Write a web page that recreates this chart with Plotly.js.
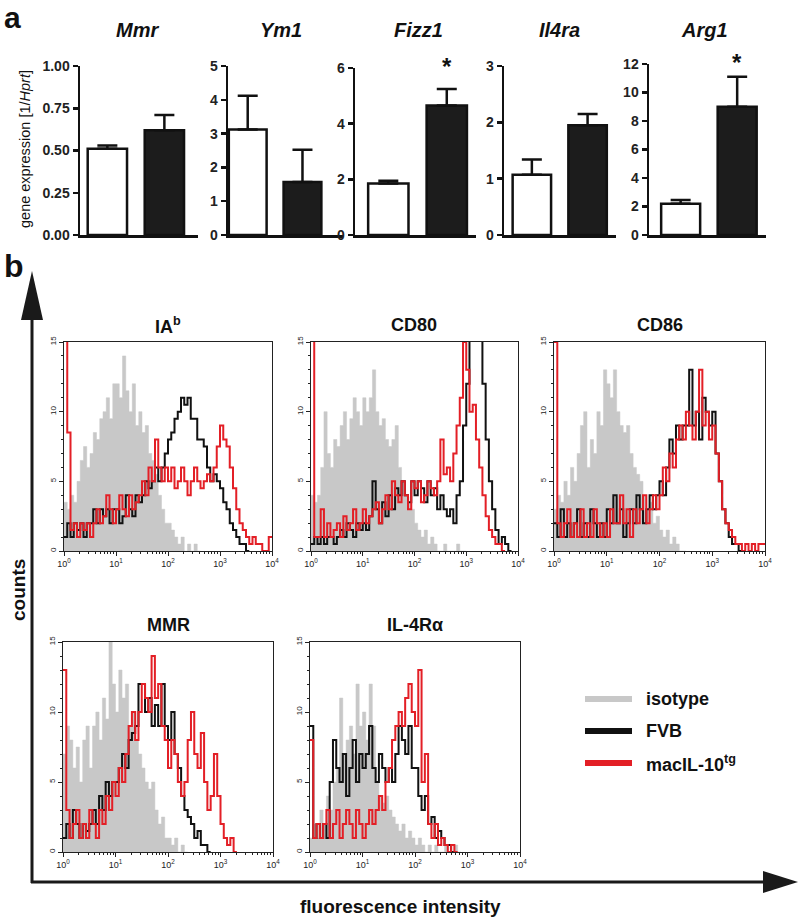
<!DOCTYPE html>
<html>
<head>
<meta charset="utf-8">
<script src="https://cdn.plot.ly/plotly-3.0.1.min.js"></script>
<style>
  html, body { margin: 0; padding: 0; background: #fff; }
  #plot { width: 800px; height: 919px; }
</style>
</head>
<body>
<div id="plot"></div>
<script>
// ---- panel a: gene expression, FVB (white) vs macIL-10tg (black) ----
const genes = ['Mmr', 'Ym1', 'Fizz1', 'Il4ra', 'Arg1'];
const fvbMean = [0.51, 3.12, 1.85, 1.07, 2.2];
const fvbErr = [0.02, 1.0, 0.1, 0.27, 0.25];
const tgMean = [0.62, 1.57, 4.65, 1.95, 9.0];
const tgErr = [0.09, 0.95, 0.6, 0.2, 2.1];
const yMax = [1, 5, 6, 3, 12];
const yStep = [0.25, 1, 2, 1, 2];
const signif = [false, false, true, false, true];

// ---- panel b: flow histograms, 16 channels per decade starting at 10^0 ----
const markers = ['IA<sup>b</sup>', 'CD80', 'CD86', 'MMR', 'IL-4R\u03b1'];
const binsPerDecade = 16;

const iabIso = [3.5,3,4,3.5,5,6.5,7.5,6, 7,8.5,8,9.5,10,11,9.5,12, 12,11,14,11.5,10,12,9,10, 8.5,9,7,6.5,5.5,4,3,2, 2,1.5,1,0.5,1,0,0.5,0, 0.5,0];
const iabFvb = [1,2,1,2,1.5,2,1,2, 2,3,2,3,2.5,3,2,3, 3,2,2.5,4,3,2.5,4,3.5, 4,5,4.5,5,6,5,6,7, 8,8.5,9.5,10,11,10.5,11,9.5, 9.5,8,8,7.5,6,5,5.5,5, 4.5,3.5,3,2,1.5,1,0.5,0.5, 0];
const iabTg = [20,8.5,1.5,2,1,2,1.5,2, 1,2,3,2,2.5,4,3,2, 3,4,3,2.5,4,3,3.5,4, 5,4,6,5,8,6,5,6, 5,6,4.5,5,6,5,4,5, 6,5,4.5,5,5.5,5,6,7.5, 9,8,7.5,6,4.5,3,2,1.5, 1,0.5,1,0.5,0.5,0,0,1];

const cd80Iso = [4,3.5,4,6,10,7,6,8, 7.5,9,10,8,9.5,11,10,9, 11,10,11,13,10,9,9.5,8, 7.5,8,9,6,5,4,3.5,3, 2,1.5,1,1.5,0.5,1,0.5,0, 0,0.5,0,0,0,0.5,0,0];
const cd80Fvb = [0.5,1,0.5,1,0.5,1,1,0.5, 1,1.5,1,2,1.5,1,2,1.5, 2,1.5,2.5,5,3,2,3.5,2.5, 4,3,4.5,4,5,4,3.5,5, 4,5,4.5,3.5,5,4,4.5,3, 4,3,2.5,3,2,4,5,9, 12,17,17,17,17,12,8,5, 3,1.5,0.5,1,0.5,0];
const cd80Tg = [20,1,1,3,1,2,1,1.5, 2,1,2.5,1.5,2,3,1.5,2, 3,2,2.5,3,3.5,2,3,4, 3,5,4,3.5,5,4,3,5, 4.5,5,3.5,4,5,4.5,4,5, 8,5.5,6,5,7,9,11,15, 13,10,10.5,8,6,4,2.5,1.5, 1,0.5,0.5,0];

const cd86Iso = [3,4,3.5,5,4,6,5,7, 9,10,6,8,7,10,9,13, 12,11,13,10,9,8.5,9,7, 6,5.5,5,4,3,3.5,2,2.5, 1.5,1,1.5,0.5,1,0.5,0,0];
const cd86Fvb = [2,1,3,1,2,1,2,3, 1,2,1,3,2,1,2,1, 3,2,4,2,3,1,2,3, 2,4,3,2,3,4,3,4, 5,4,6,8,7,9,8,9, 9,13,9,10,8,11,10,9, 10,7,5,3,2,1,0.5,0.5, 0];
const cd86Tg = [15,2,1,2,3,1,2,1, 3,1,2,1,3,2,1,2, 1,3,2,2,4,2,3,1, 3,2,3,4,2,3,4,3, 4,6,5,7,6,8,9,8, 10,9,8,10,13,9,10,8, 9,7,5,3,2,1.5,1,0.5, 0.5,0,0.5,0,0.5,0,0.5,0.5];

const mmrIso = [7,9,8,6,7.5,5,8,9, 6,9,10,8,11,9.5,15,12, 10,13,11,12,9,10,8,7, 6,5,4.5,5,3,2,2.5,1, 1,0.5,1,0,0.5,0];
const mmrFvb = [1,2,1,3,2,1,2,1.5, 2,3,2,4,3,5,4,5, 5,6,7,6,8,8.5,9,12, 12,10,11,9,10.5,9,12,9, 8,10,7,6,4,3,2.5,2, 1,1.5,0.5,0.5,0];
const mmrTg = [13,3,1,2,3,1,2,1, 3,2,1,3,2,4,3,5, 4,6,5,7,9,10,8,10, 12,11,10,14,11,12,9,8, 6,8,7,5,4,5,8,10, 7,6,8.5,5,3,4,7,4, 2,1,0.5,1,0];

const il4rIso = [1,2,1,3,2,4,3,5, 6,11,7,8,9,7,12,9, 10,8,12,9,5,4,3.5,4, 3,2.5,2,1.5,2,1,1.5,1, 0.5,1,0.5,0,0.5,0,0.5,0, 0,0.5,0,0,0.5,0];
const il4rFvb = [9,1,2,1,2,1,5,8, 6,5,7,4,6,8,5,7, 6,7,9,6,5,7,6,5, 6,5,7,9,8,7,9,6, 6,4,3,4,2,2.5,1,1.5, 1,0.5,0.5,0];
const il4rTg = [8,1,2,1,2,3,1,2, 3,1,2,3,2,1,3,2, 1,2,3,2,3,4,3,5, 6,8,9,10,9,11,12,10, 9,13,5,7,2,1,2,0.5, 1,0.5,0,0.5,0];

const isoSets = [iabIso, cd80Iso, cd86Iso, mmrIso, il4rIso];
const fvbSets = [iabFvb, cd80Fvb, cd86Fvb, mmrFvb, il4rFvb];
const tgSets = [iabTg, cd80Tg, cd86Tg, mmrTg, il4rTg];

const legendNames = ['isotype', 'FVB', 'macIL-10<sup>tg</sup>'];

// ---- layout helpers ----
const W = 800, H = 919;
const px = v => v / W;
const py = v => 1 - v / H;
const FONT = 'Liberation Sans, Arial, Helvetica, sans-serif';
const GRAY = '#c8c8c8', BLACK = '#111111', RED = '#e31f26';

// pixel boxes for the bar charts (y axis left, x axis end, top of y axis)
const barBox = [
    { l: 80, r: 198, t: 66, x0: -0.48, x1: 1.59, title: 137 },
    { l: 228, r: 343, t: 66, x0: -0.36, x1: 1.74, title: 281 },
    { l: 355, r: 476, t: 68, x0: -0.57, x1: 1.5, title: 418 },
    { l: 504, r: 616, t: 66, x0: -0.5, x1: 1.51, title: 559 },
    { l: 649, r: 766, t: 64, x0: -0.56, x1: 1.51, title: 704 }
];
const barBottom = 235;
const starY = [0, 0, 67, 0, 62];

// pixel boxes for the histograms
const histBox = [
    { l: 64, r: 272, t: 342, b: 551 },
    { l: 311, r: 518, t: 342, b: 551 },
    { l: 554, r: 765, t: 342, b: 551 },
    { l: 63, r: 273, t: 642, b: 852 },
    { l: 310, r: 520, t: 642, b: 852 }
];

function steps(counts) {
    const x = [], y = [];
    counts.forEach((c, i) => {
        x.push(Math.pow(10, i / binsPerDecade));
        y.push(c);
    });
    x.push(Math.pow(10, counts.length / binsPerDecade));
    y.push(counts[counts.length - 1]);
    return { x, y };
}

// annotation in page pixels, always centred on the point
function label(x, y, text, size, extra) {
    return Object.assign({
        xref: 'paper', yref: 'paper', x: px(x), y: py(y),
        xanchor: 'center', yanchor: 'middle',
        text: text, showarrow: false,
        font: { family: FONT, size: size, color: BLACK }
    }, extra || {});
}

const traces = [];
const layout = {
    width: W, height: H,
    margin: { l: 0, r: 0, t: 0, b: 0 },
    paper_bgcolor: '#fff', plot_bgcolor: '#fff',
    showlegend: false,
    font: { family: FONT, color: BLACK },
    annotations: [],
    shapes: []
};

// bar charts
genes.forEach((g, i) => {
    const n = i + 1;
    const xa = n === 1 ? 'x' : 'x' + n;
    const ya = n === 1 ? 'y' : 'y' + n;
    const box = barBox[i];

    traces.push({
        type: 'bar',
        x: [0, 1],
        y: [fvbMean[i], tgMean[i]],
        width: 0.69,
        marker: { color: ['#ffffff', '#1c1c1c'], line: { color: BLACK, width: 2.5 } },
        error_y: {
            type: 'data', symmetric: false,
            array: [fvbErr[i], tgErr[i]], arrayminus: [0, 0],
            color: BLACK, thickness: 2.5, width: 10
        },
        xaxis: xa, yaxis: ya, hoverinfo: 'skip'
    });

    layout['xaxis' + (n === 1 ? '' : n)] = {
        domain: [px(box.l), px(box.r)],
        range: [box.x0, box.x1],
        anchor: ya,
        showline: true, linewidth: 2.5, linecolor: BLACK,
        showticklabels: false, ticks: '', showgrid: false, zeroline: false
    };
    layout['yaxis' + (n === 1 ? '' : n)] = {
        domain: [py(barBottom), py(box.t)],
        range: [0, yMax[i]],
        dtick: yStep[i], tick0: 0,
        tickformat: i === 0 ? '.2f' : '',
        anchor: xa,
        showline: true, linewidth: 2.5, linecolor: BLACK,
        ticks: 'outside', ticklen: 5, tickwidth: 2.5, tickcolor: BLACK,
        tickfont: { family: FONT, size: 14, weight: 'bold', color: '#222' },
        showgrid: false, zeroline: false
    };

    layout.annotations.push(label(box.title, 30, '<b><i>' + g + '</i></b>', 20));
    if (signif[i]) {
        layout.annotations.push({
            xref: xa, yref: 'paper', x: 1, y: py(starY[i]),
            xanchor: 'center', yanchor: 'middle',
            text: '<b>*</b>', showarrow: false,
            font: { family: FONT, size: 24, color: BLACK }
        });
    }
});

layout.annotations.push(label(25, 149, 'gene expression [1/<i>Hprt</i>]', 14.5, { textangle: -90 }));

// histograms
const majorX = [1, 10, 100, 1000, 10000];
const majorText = ['10<sup>0</sup>', '10<sup>1</sup>', '10<sup>2</sup>', '10<sup>3</sup>', '10<sup>4</sup>'];
const minorX = [];
[1, 10, 100, 1000].forEach(d => { for (let k = 2; k <= 9; k++) minorX.push(k * d); });

markers.forEach((m, i) => {
    const n = i + 6;
    const xa = 'x' + n, ya = 'y' + n;
    const box = histBox[i];

    const iso = steps(isoSets[i]);
    traces.push({
        type: 'scatter', mode: 'lines', x: iso.x, y: iso.y,
        line: { shape: 'hv', width: 0.5, color: GRAY },
        fill: 'tozeroy', fillcolor: GRAY,
        xaxis: xa, yaxis: ya, hoverinfo: 'skip'
    });
    const fvb = steps(fvbSets[i]);
    traces.push({
        type: 'scatter', mode: 'lines', x: fvb.x, y: fvb.y,
        line: { shape: 'hv', width: 2, color: BLACK },
        xaxis: xa, yaxis: ya, hoverinfo: 'skip'
    });
    const tg = steps(tgSets[i]);
    traces.push({
        type: 'scatter', mode: 'lines', x: tg.x, y: tg.y,
        line: { shape: 'hv', width: 2, color: RED },
        xaxis: xa, yaxis: ya, hoverinfo: 'skip'
    });

    layout['xaxis' + n] = {
        domain: [px(box.l), px(box.r)],
        type: 'log', range: [0, 4], anchor: ya,
        showline: true, mirror: true, linewidth: 1, linecolor: '#222',
        tickmode: 'array', tickvals: majorX, ticktext: majorText,
        ticks: 'outside', ticklen: 4, tickwidth: 1, tickcolor: '#222',
        minor: { tickmode: 'array', tickvals: minorX, ticks: 'outside', ticklen: 2, tickwidth: 1, tickcolor: '#222' },
        tickfont: { family: FONT, size: 9, color: '#222' },
        showgrid: false, zeroline: false
    };
    layout['yaxis' + n] = {
        domain: [py(box.b), py(box.t)],
        range: [0, 15], anchor: xa,
        showline: true, mirror: true, linewidth: 1, linecolor: '#222',
        tickmode: 'array', tickvals: [0, 5, 10, 15], tickangle: -90,
        ticks: 'outside', ticklen: 4, tickwidth: 1, tickcolor: '#222',
        minor: { dtick: 1, ticks: 'outside', ticklen: 2, tickwidth: 1, tickcolor: '#222' },
        tickfont: { family: FONT, size: 8, color: '#222' },
        showgrid: false, zeroline: false
    };

    layout.annotations.push(label((box.l + box.r) / 2, box.t - 17, '<b>' + m + '</b>', 18));
});

// panel letters and big axis labels
layout.annotations.push(
    label(12, 18, '<b>a</b>', 30),
    label(14, 266, '<b>b</b>', 32),
    label(18, 590, '<b>counts</b>', 19, { textangle: -90 }),
    label(400, 906, '<b>fluorescence intensity</b>', 19)
);

// big arrows
layout.shapes.push(
    { type: 'line', xref: 'paper', yref: 'paper', x0: px(32), y0: py(883), x1: px(32), y1: py(315), line: { color: '#1a1a1a', width: 3 } },
    { type: 'path', xref: 'paper', yref: 'paper', path: `M ${px(21)},${py(320)} L ${px(32)},${py(271)} L ${px(43)},${py(320)} Z`, fillcolor: '#1a1a1a', line: { width: 0 } },
    { type: 'line', xref: 'paper', yref: 'paper', x0: px(31), y0: py(882), x1: px(766), y1: py(882), line: { color: '#1a1a1a', width: 3 } },
    { type: 'path', xref: 'paper', yref: 'paper', path: `M ${px(763)},${py(871)} L ${px(798)},${py(882)} L ${px(763)},${py(893)} Z`, fillcolor: '#1a1a1a', line: { width: 0 } }
);

// legend
const legendColors = [GRAY, BLACK, RED];
legendNames.forEach((name, k) => {
    const yy = 699 + k * 32;
    layout.shapes.push({
        type: 'line', xref: 'paper', yref: 'paper',
        x0: px(585), x1: px(632), y0: py(yy), y1: py(yy),
        line: { color: legendColors[k], width: 6 }
    });
    layout.annotations.push(label(644, yy, '<b>' + name + '</b>', 18, { xanchor: 'left' }));
});

Plotly.newPlot('plot', traces, layout, { staticPlot: true, displayModeBar: false });
</script>
</body>
</html>
